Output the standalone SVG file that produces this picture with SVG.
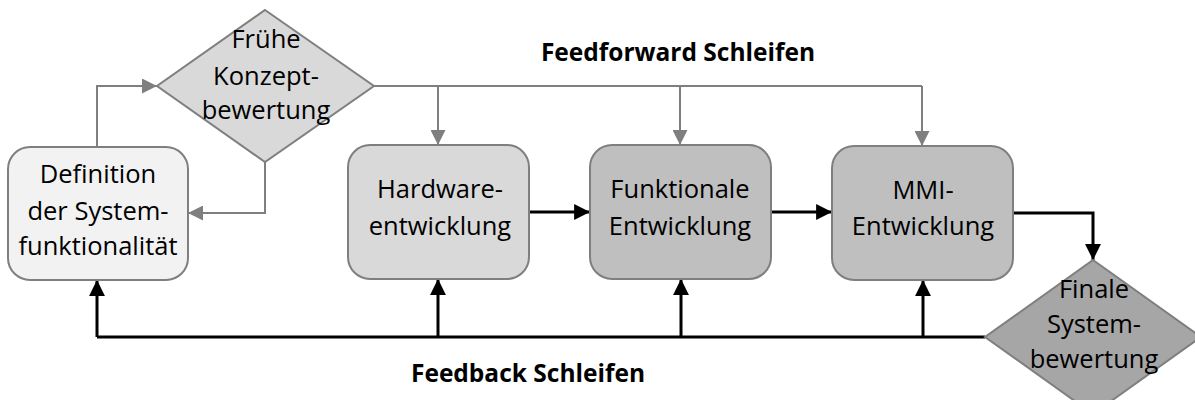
<svg xmlns="http://www.w3.org/2000/svg" width="1195" height="400" viewBox="0 0 1195 400">
  <style>
    .box { stroke: #7f7f7f; stroke-width: 2; }
    .lbl { font-family: "Open Sans", "Liberation Sans", sans-serif; font-size: 25.5px; fill: #000; text-anchor: middle; }
    .title { font-family: "Open Sans", "Liberation Sans", sans-serif; font-size: 24.5px; font-weight: bold; fill: #000; text-anchor: middle; }
    .ff { fill: none; stroke: #7f7f7f; stroke-width: 2; marker-end: url(#grayArrow); }
    .ffl { fill: none; stroke: #7f7f7f; stroke-width: 2; }
    .fb { fill: none; stroke: #000; stroke-width: 3; marker-end: url(#blackArrow); }
    .fbl { fill: none; stroke: #000; stroke-width: 3; }
  </style>
  <defs>
    <marker id="grayArrow" viewBox="0 0 10 10" refX="10" refY="5" markerWidth="7.5" markerHeight="7.5" markerUnits="strokeWidth" orient="auto">
      <path d="M0,0 L10,5 L0,10 z" fill="#7f7f7f"/>
    </marker>
    <marker id="blackArrow" viewBox="0 0 10 10" refX="10" refY="5" markerWidth="5.3" markerHeight="5.3" markerUnits="strokeWidth" orient="auto">
      <path d="M0,0 L10,5 L0,10 z" fill="#000"/>
    </marker>
  </defs>

  <!-- connectors -->
  <g id="connectors">
    <!-- feedforward (gray) -->
    <path class="ff" d="M97,147 V86 H157"/>
    <path class="ff" d="M265,162 V213 H188"/>
    <path class="ffl" d="M374,86 H922"/>
    <path class="ff" d="M438,86 V145"/>
    <path class="ff" d="M680,86 V145"/>
    <path class="ff" d="M922,86 V146"/>
    <!-- main flow (black) -->
    <path class="fb" d="M529,212 H590"/>
    <path class="fb" d="M771,212 H832"/>
    <path class="fb" d="M1013,213 H1093 V260"/>
    <!-- feedback (black) -->
    <path class="fbl" d="M985,337 H97"/>
    <path class="fb" d="M97,337 V280"/>
    <path class="fb" d="M438,337 V279"/>
    <path class="fb" d="M681,337 V279"/>
    <path class="fb" d="M923,337 V280"/>
  </g>

  <g id="definition">
    <rect class="box" x="8" y="147" width="180" height="133" rx="22" fill="#f2f2f2"/>
    <text class="lbl" x="98" y="183">Definition</text>
    <text class="lbl" x="98" y="220">der System-</text>
    <text class="lbl" x="98" y="255">funktionalität</text>
  </g>

  <g id="fruehe-konzeptbewertung">
    <polygon class="box" points="265,10 374,86 265,162 157,86" fill="#d9d9d9"/>
    <text class="lbl" x="266" y="48">Frühe</text>
    <text class="lbl" x="266" y="85">Konzept-</text>
    <text class="lbl" x="266" y="119">bewertung</text>
  </g>

  <g id="hardware">
    <rect class="box" x="348" y="145" width="181" height="134" rx="22" fill="#d9d9d9"/>
    <text class="lbl" x="440" y="198">Hardware-</text>
    <text class="lbl" x="440" y="235">entwicklung</text>
  </g>

  <g id="funktionale">
    <rect class="box" x="590" y="145" width="181" height="134" rx="22" fill="#bfbfbf"/>
    <text class="lbl" x="680" y="198">Funktionale</text>
    <text class="lbl" x="680" y="235">Entwicklung</text>
  </g>

  <g id="mmi">
    <rect class="box" x="832" y="146" width="181" height="134" rx="22" fill="#bfbfbf"/>
    <text class="lbl" x="923" y="199">MMI-</text>
    <text class="lbl" x="923" y="235">Entwicklung</text>
  </g>

  <g id="finale-systembewertung">
    <polygon class="box" points="1093,260 1201,337 1093,414 985,337" fill="#a6a6a6"/>
    <text class="lbl" x="1094" y="298">Finale</text>
    <text class="lbl" x="1094" y="333">System-</text>
    <text class="lbl" x="1094" y="368">bewertung</text>
  </g>

  <g id="labels">
    <text class="title" x="678" y="61">Feedforward Schleifen</text>
    <text class="title" x="528" y="382">Feedback Schleifen</text>
  </g>
</svg>
